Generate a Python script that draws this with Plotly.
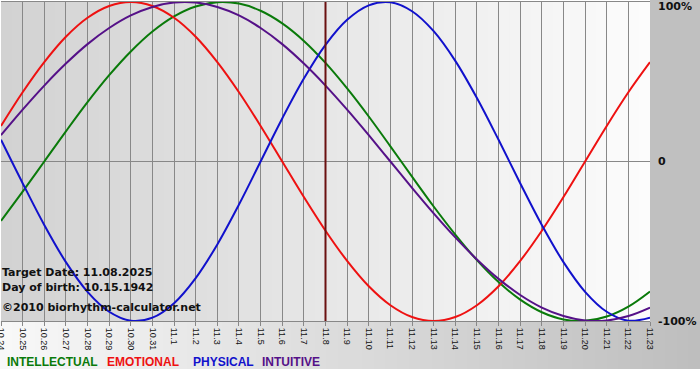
import plotly.graph_objects as go

days = ["10.24", "10.25", "10.26", "10.27", "10.28", "10.29", "10.30", "10.31",
        "11.1", "11.2", "11.3", "11.4", "11.5", "11.6", "11.7", "11.8", "11.9",
        "11.10", "11.11", "11.12", "11.13", "11.14", "11.15", "11.16", "11.17",
        "11.18", "11.19", "11.20", "11.21", "11.22", "11.23"]

intellectual = [-0.372, -0.189, 0.0, 0.189, 0.372, 0.541, 0.690, 0.815, 0.910, 0.972,
                0.999, 0.990, 0.945, 0.866, 0.756, 0.618, 0.458, 0.282, 0.095, -0.095,
                -0.282, -0.458, -0.618, -0.756, -0.866, -0.945, -0.990, -0.999, -0.972,
                -0.910, -0.815]
emotional = [0.223, 0.434, 0.623, 0.782, 0.901, 0.975, 1.0, 0.975, 0.901, 0.782, 0.623,
             0.434, 0.223, 0.0, -0.223, -0.434, -0.623, -0.782, -0.901, -0.975, -1.0,
             -0.975, -0.901, -0.782, -0.623, -0.434, -0.223, 0.0, 0.223, 0.434, 0.623]
physical = [0.136, -0.136, -0.398, -0.631, -0.817, -0.942, -0.998, -0.979, -0.888, -0.731,
            -0.520, -0.270, 0.0, 0.270, 0.520, 0.731, 0.888, 0.979, 0.998, 0.942, 0.817,
            0.631, 0.398, 0.136, -0.136, -0.398, -0.631, -0.817, -0.942, -0.998, -0.979]
intuitive = [0.165, 0.325, 0.476, 0.614, 0.736, 0.837, 0.916, 0.969, 0.997, 0.997, 0.969,
             0.916, 0.837, 0.736, 0.614, 0.476, 0.325, 0.165, 0.0, -0.165, -0.325, -0.476,
             -0.614, -0.736, -0.837, -0.916, -0.969, -0.997, -0.997, -0.969, -0.916]

series_names = ["INTELLECTUAL", "EMOTIONAL", "PHYSICAL", "INTUITIVE"]
series_colors = ["#0a7a0a", "#ee1111", "#1111cc", "#551188"]
target_day = "11.8"
info_lines = ["Target Date: 11.08.2025", "Day of birth: 10.15.1942",
              "\u00a92010 biorhythm-calculator.net"]
y_labels = ["100%", "0", "-100%"]

W, H = 700, 380
L, R, T, B = 1, 50, 2, 59
PW, PH = W - L - R, H - T - B


def px(x):
    return (x - L) / PW


def py(y):
    return (H - B - y) / PH


fig = go.Figure()
for name, vals, col in zip(series_names, [intellectual, emotional, physical, intuitive],
                           series_colors):
    fig.add_trace(go.Scatter(x=list(range(len(days))), y=vals, mode="lines", name=name,
                             line=dict(color=col, width=2, shape="spline", smoothing=1.0),
                             showlegend=False, hoverinfo="skip", cliponaxis=True))

shapes = []


def hexgray(v):
    v = int(round(v))
    return "#%02x%02x%02x" % (v, v, v)


N = 60
for i in range(N):
    t = (i + 0.5) / N
    shapes.append(dict(type="rect", xref="paper", yref="paper", x0=i / N, x1=(i + 1) / N + 0.002,
                       y0=0, y1=1, fillcolor=hexgray(210 + (252 - 210) * t),
                       line=dict(width=0), layer="below"))
for i in range(N):
    t = (i + 0.5) / N
    x0 = px(0) + (px(W) - px(0)) * i / N
    x1 = px(0) + (px(W) - px(0)) * (i + 1) / N + 0.003
    shapes.append(dict(type="rect", xref="paper", yref="paper", x0=x0, x1=x1,
                       y0=py(369), y1=0, fillcolor=hexgray(248 - (248 - 190) * t),
                       line=dict(width=0), layer="below"))
shapes.append(dict(type="rect", xref="paper", yref="paper", x0=1.0, x1=px(W),
                   y0=py(321), y1=py(0), fillcolor="#c0c0c0", line=dict(width=0),
                   layer="below"))
ti = days.index(target_day)
shapes.append(dict(type="line", xref="x", yref="paper", x0=ti, x1=ti, y0=0, y1=1,
                   line=dict(color="#6a1010", width=2), layer="above", opacity=1))

annotations = []
for i, txt in enumerate(info_lines):
    annotations.append(dict(text="<b>%s</b>" % txt, xref="paper", yref="paper", x=px(0),
                            y=py([272, 287, 307][i]),
                            xanchor="left", yanchor="middle", showarrow=False,
                            font=dict(family="DejaVu Sans", size=11, color="#111111")))
for lab, yy in zip(y_labels, [7, 162, 321]):
    annotations.append(dict(text="<b>%s</b>" % lab, xref="paper", yref="paper", x=px(656),
                            y=py(yy), xanchor="left", yanchor="middle", showarrow=False,
                            font=dict(family="DejaVu Sans", size=11, color="#111111")))
for name, col, xx in zip(series_names, series_colors, [5, 105, 191, 260]):
    annotations.append(dict(text="<b>%s</b>" % name, xref="paper", yref="paper", x=px(xx),
                            y=py(362), xanchor="left", yanchor="middle", showarrow=False,
                            font=dict(family="Liberation Sans", size=12, color=col)))

fig.update_layout(
    width=W, height=H, margin=dict(l=L, r=R, t=T, b=B, pad=0, autoexpand=False),
    paper_bgcolor="white", plot_bgcolor="rgba(0,0,0,0)",
    shapes=shapes, annotations=annotations,
    xaxis=dict(range=[0, len(days) - 1], tickmode="array", automargin=False,
               tickvals=list(range(len(days))), ticktext=days, tickangle=90,
               ticklabeloverflow="allow",
               showgrid=True, gridcolor="#888888", gridwidth=1, zeroline=False,
               showline=True, linecolor="#888888", linewidth=1, mirror=True,
               ticks="outside", ticklen=4, tickcolor="#888888",
               tickfont=dict(family="Liberation Sans", size=9, color="#111111"),
               fixedrange=True),
    yaxis=dict(range=[-1, 1], showgrid=False, zeroline=True, zerolinecolor="#888888",
               zerolinewidth=1, showticklabels=False, showline=False, fixedrange=True,
               automargin=False),
)

fig.write_html("out.html", config={"displayModeBar": False},
               post_script="document.body.style.margin='0';document.body.style.overflow='hidden';")
